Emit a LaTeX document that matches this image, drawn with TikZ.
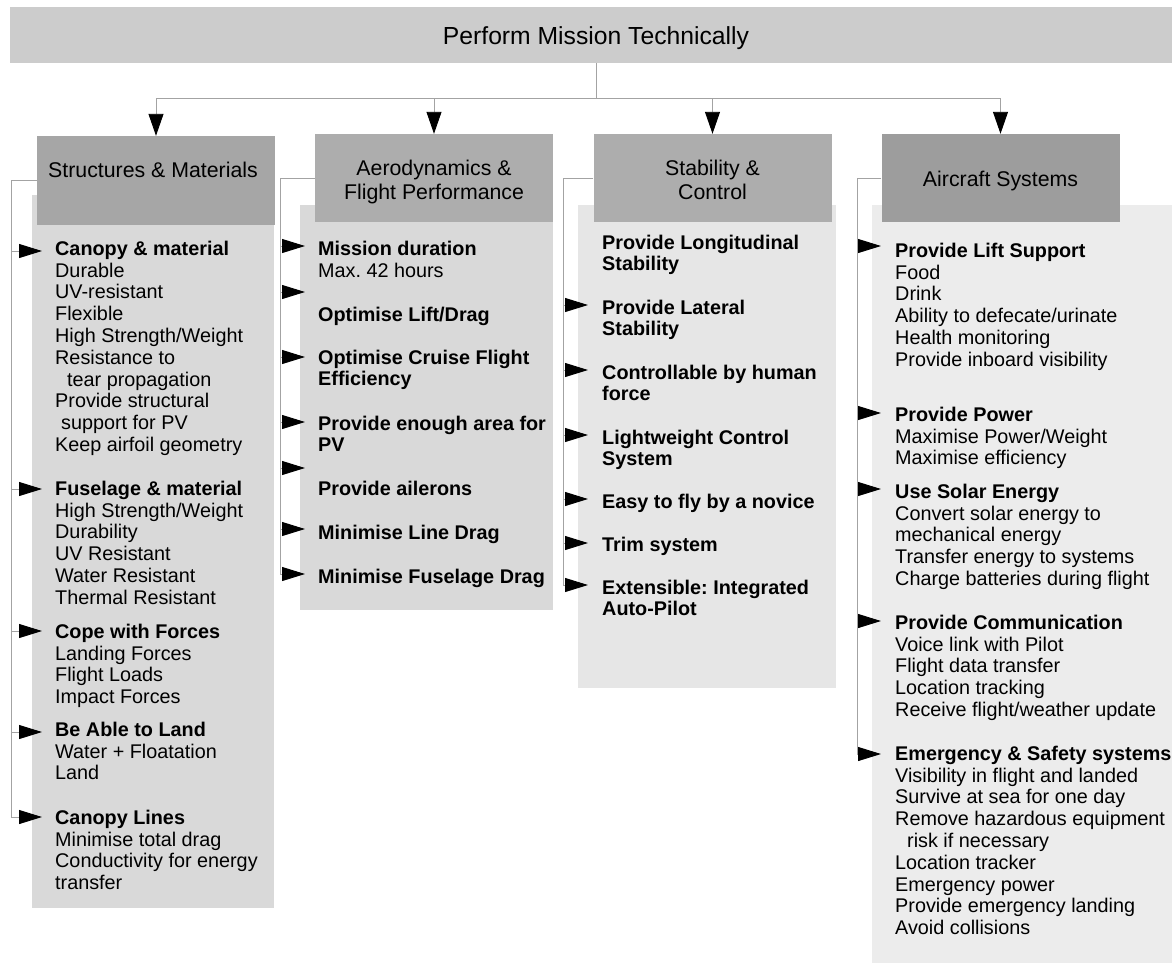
\documentclass[tikz,border=0pt]{standalone}
\usepackage{fontspec}
\setmainfont{Liberation Sans}
\usetikzlibrary{arrows.meta}
\frenchspacing
\definecolor{topc}{HTML}{CCCCCC}
\definecolor{hsc}{HTML}{A6A6A6}
\definecolor{hac}{HTML}{ADADAD}
\definecolor{hstc}{HTML}{ADADAD}
\definecolor{hcc}{HTML}{9D9D9D}
\definecolor{bsc}{HTML}{D9D9D9}
\definecolor{bac}{HTML}{D9D9D9}
\definecolor{bstc}{HTML}{E6E6E6}
\definecolor{bcc}{HTML}{ECECEC}
\definecolor{lc}{gray}{0.64}
\newcommand\txtlines[5]{%
  \foreach \itm [count=\i] in {#5}{%
    \node[#1, anchor=base west] (#2-\i) at (#3, {#4+(\i-1)*21.8}) {\itm};
  }%
}
\tikzset{
  conn/.style={draw=lc, line width=0.9pt},
  tipa/.style={-{Triangle[length=22pt,width=15pt,color=black]}},
  tipb/.style={-{Triangle[length=23pt,width=14pt,color=black]}},
  txt/.style={inner sep=0pt, font=\fontsize{19.8}{21.8}\selectfont},
  txtb/.style={inner sep=0pt, font=\fontsize{19.8}{21.8}\selectfont\bfseries},
  hdr/.style={minimum width=238pt, minimum height=88pt, inner sep=0pt, draw=none},
  htxt/.style={inner sep=0pt, font=\fontsize{21.3}{24}\selectfont},
}
\begin{document}
\begin{tikzpicture}[x=1pt, y=-1pt]
\useasboundingbox (0,0) rectangle (1172,962);
% top box
\node[fill=topc, minimum width=1172pt, minimum height=56pt, inner sep=0pt] (top) at (596,35) {};
\node[inner sep=0pt, font=\fontsize{24.7}{28}\selectfont, anchor=base] (toptxt) at (596,44) {Perform Mission Technically};
% bodies
\fill[bsc] (32,195) rectangle (274,908);
\fill[bac] (300,205) rectangle (553,610);
\fill[bstc] (578,205) rectangle (836,688);
\fill[bcc] (872,205) rectangle (1182,970);
% headers
\node[hdr, fill=hsc, minimum height=89pt] (h1) at (156,180.5) {};
\node[hdr, fill=hac] (h2) at (434,178) {};
\node[hdr, fill=hstc] (h3) at (712.5,178) {};
\node[hdr, fill=hcc] (h4) at (1000.5,178) {};
\node[htxt, anchor=base] (h1t) at (153,177.5) {Structures \& Materials};
\node[htxt, anchor=base] (h2t) at (434,175.5) {Aerodynamics \&};
\node[htxt, anchor=base] (h2u) at (434,199.5) {Flight Performance};
\node[htxt, anchor=base] (h3t) at (712.5,175.5) {Stability \&};
\node[htxt, anchor=base] (h3u) at (712.5,199.5) {Control};
\node[htxt, anchor=base] (h4t) at (1000.5,186.5) {Aircraft Systems};
% top connectors
\draw[conn,tipa] (top.south) -- ++(0,35) -| (h1.north);
\draw[conn,tipa] (top.south) -- ++(0,35) -| (h2.north);
\draw[conn,tipa] (top.south) -- ++(0,35) -| (h3.north);
\draw[conn,tipa] (top.south) -- ++(0,35) -| (h4.north);
% Structures texts
\txtlines{txtb}{sA}{55}{255}{Canopy \& material}
\txtlines{txt}{sAa}{55}{277}{Durable,UV-resistant,Flexible,High Strength/Weight,Resistance to,\hspace*{12pt}tear propagation,Provide structural,\hspace*{6pt}support for PV,Keep airfoil geometry}
\txtlines{txtb}{sB}{55}{495}{Fuselage \& material}
\txtlines{txt}{sBa}{55}{517}{High Strength/Weight,Durability,UV Resistant,Water Resistant,Thermal Resistant}
\txtlines{txtb}{sC}{55}{638}{Cope with Forces}
\txtlines{txt}{sCa}{55}{660}{Landing Forces,Flight Loads,Impact Forces}
\txtlines{txtb}{sD}{55}{736}{Be Able to Land}
\txtlines{txt}{sDa}{55}{758}{Water + Floatation,Land}
\txtlines{txtb}{sE}{55}{824}{Canopy Lines}
\txtlines{txt}{sEa}{55}{846}{Minimise total drag,Conductivity for energy,transfer}
% Aero texts
\txtlines{txtb}{aA}{318}{255}{Mission duration}
\txtlines{txt}{aAa}{318}{277}{Max. 42 hours}
\txtlines{txtb}{aB}{318}{321}{Optimise Lift/Drag}
\txtlines{txtb}{aC}{318}{364}{Optimise Cruise Flight,Efficiency}
\txtlines{txtb}{aD}{318}{430}{Provide enough area for,PV}
\txtlines{txtb}{aE}{318}{495}{Provide ailerons}
\txtlines{txtb}{aF}{318}{539}{Minimise Line Drag}
\txtlines{txtb}{aG}{318}{583}{Minimise Fuselage Drag}
% Stability texts
\txtlines{txtb}{tA}{602}{249}{Provide Longitudinal,Stability}
\txtlines{txtb}{tB}{602}{314}{Provide Lateral,Stability}
\txtlines{txtb}{tC}{602}{379}{Controllable by human,force}
\txtlines{txtb}{tD}{602}{444}{Lightweight Control,System}
\txtlines{txtb}{tE}{602}{508}{Easy to fly by a novice}
\txtlines{txtb}{tF}{602}{551}{Trim system}
\txtlines{txtb}{tG}{602}{594}{Extensible: Integrated,Auto-Pilot}
% Aircraft texts
\txtlines{txtb}{cA}{895}{257}{Provide Lift Support}
\txtlines{txt}{cAa}{895}{279}{Food,Drink,Ability to defecate/urinate,Health monitoring,Provide inboard visibility}
\txtlines{txtb}{cB}{895}{421}{Provide Power}
\txtlines{txt}{cBa}{895}{443}{Maximise Power/Weight,Maximise efficiency}
\txtlines{txtb}{cC}{895}{498}{Use Solar Energy}
\txtlines{txt}{cCa}{895}{520}{Convert solar energy to,mechanical energy,Transfer energy to systems,Charge batteries during flight}
\txtlines{txtb}{cD}{895}{629}{Provide Communication}
\txtlines{txt}{cDa}{895}{651}{Voice link with Pilot,Flight data transfer,Location tracking,Receive flight/weather update}
\txtlines{txtb}{cE}{895}{760}{Emergency \& Safety systems}
\txtlines{txt}{cEa}{895}{782}{Visibility in flight and landed,Survive at sea for one day,Remove hazardous equipment,\hspace*{12pt}risk if necessary,Location tracker,Emergency power,Provide emergency landing,Avoid collisions}
% brackets
\coordinate (s1v) at (11,817);
\coordinate (s2v) at (280,574);
\coordinate (s3v) at (563,585);
\coordinate (s4v) at (857,754);
\draw[conn] (h1.west) -| (s1v);
\draw[conn] (h2.west) -| (s2v);
\draw[conn] (h3.west) -| (s3v);
\draw[conn] (h4.west) -| (s4v);
\foreach \yy [count=\i] in {251,489,631,732,817}{
  \coordinate (sa\i) at (42,\yy);
  \draw[conn,tipb] (sa\i -| s1v) -- (sa\i);
}
\foreach \yy [count=\i] in {246,292,357,422,468,529,574}{
  \coordinate (aa\i) at (305,\yy);
  \draw[conn,tipb] (aa\i -| s2v) -- (aa\i);
}
\foreach \yy [count=\i] in {305,370,435,499,543,585}{
  \coordinate (ta\i) at (588,\yy);
  \draw[conn,tipb] (ta\i -| s3v) -- (ta\i);
}
\foreach \yy [count=\i] in {246,413,489,621,754}{
  \coordinate (ca\i) at (881,\yy);
  \draw[conn,tipb] (ca\i -| s4v) -- (ca\i);
}
\end{tikzpicture}
\end{document}
